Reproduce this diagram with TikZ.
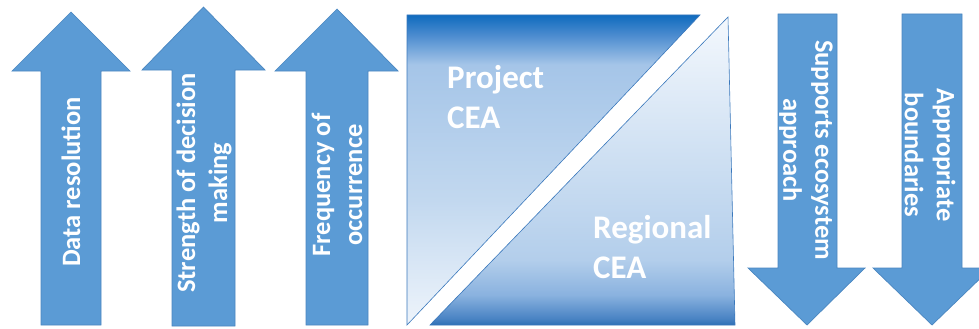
\documentclass[tikz,border=0pt]{standalone}
\usepackage{fontspec}
\setmainfont{Carlito}
\definecolor{arrowfill}{HTML}{5B9BD5}
\definecolor{arrowline}{HTML}{4A86C0}
\definecolor{shapeline}{HTML}{3A78BC}
\definecolor{pA}{HTML}{0F6BBE}
\definecolor{pB}{HTML}{4A8BCF}
\definecolor{pC}{HTML}{A5C5E8}
\definecolor{pD}{HTML}{C2D8EF}
\definecolor{pE}{HTML}{EEF4FB}
\definecolor{rA}{HTML}{F4F8FD}
\definecolor{rB}{HTML}{D0E1F3}
\definecolor{rC}{HTML}{B3CEEB}
\definecolor{rD}{HTML}{8AB2DF}
\definecolor{rE}{HTML}{4A84C4}
\definecolor{rF}{HTML}{2E6EB5}
\pgfdeclareverticalshading{projshade}{100bp}{%
  color(0bp)=(pE); color(25bp)=(pE); color(45.2bp)=(pD);
  color(67bp)=(pC); color(71.8bp)=(pB); color(75bp)=(pA); color(100bp)=(pA)}
\pgfdeclareverticalshading{regshade}{100bp}{%
  color(0bp)=(rF); color(25bp)=(rF); color(26.1bp)=(rE); color(29.9bp)=(rD);
  color(35.6bp)=(rC); color(53.4bp)=(rB); color(75bp)=(rA); color(100bp)=(rA)}
\begin{document}
\begin{tikzpicture}[x=1pt,y=-1pt,
  bigarrow/.style={fill=arrowfill,draw=arrowline,line width=0.7pt,line join=miter},
  atext/.style={text=white,font=\bfseries\fontsize{26.5}{32}\selectfont,align=center,inner sep=0pt},
  ceatext/.style={text=white,font=\bfseries\fontsize{33}{40}\selectfont,align=left,inner sep=0pt},
  ceashape/.style={draw=shapeline,line width=0.6pt}]
\useasboundingbox (0,0) rectangle (979,329);
\begin{scope}
\clip (0,0) rectangle (979,329);
% up arrows
\draw[bigarrow] (41,325) -- (41,71) -- (12,71) -- (71,12) -- (130,71) -- (101,71) -- (101,325) -- cycle;
\draw[bigarrow] (172,326) -- (172,70) -- (142,70) -- (203.5,7) -- (265,70) -- (235,70) -- (235,326) -- cycle;
\draw[bigarrow] (306,325) -- (306,71) -- (275,71) -- (337,9) -- (398,71) -- (368,71) -- (368,325) -- cycle;
% down arrows
\draw[bigarrow] (778,14) -- (837,14) -- (837,268) -- (865,268) -- (807,325) -- (748,268) -- (778,268) -- cycle;
\draw[bigarrow] (902,14) -- (962,14) -- (962,268) -- (991,268) -- (932,325) -- (873,268) -- (902,268) -- cycle;
% CEA shapes
\shade[ceashape,shading=projshade] (407,15) -- (700,15) -- (407,325) -- cycle;
\shade[ceashape,shading=regshade] (728,17) -- (735,325) -- (430,325) -- cycle;
\end{scope}
\node[atext,rotate=90] (t1) at (71,182) {Data resolution};
\node[atext,rotate=90] (t2) at (204,183) {Strength of decision\\making};
\node[atext,rotate=90] (t3) at (337,185) {Frequency of\\occurrence};
\node[atext,rotate=-90] (t4) at (806,150) {Supports ecosystem\\approach};
\node[atext,rotate=-90] (t5) at (930,155) {Appropriate\\boundaries};
\node[ceatext,anchor=west] (p) at (447,97) {Project\\CEA};
\node[ceatext,anchor=west] (r) at (593,247) {Regional\\CEA};
\end{tikzpicture}
\end{document}
